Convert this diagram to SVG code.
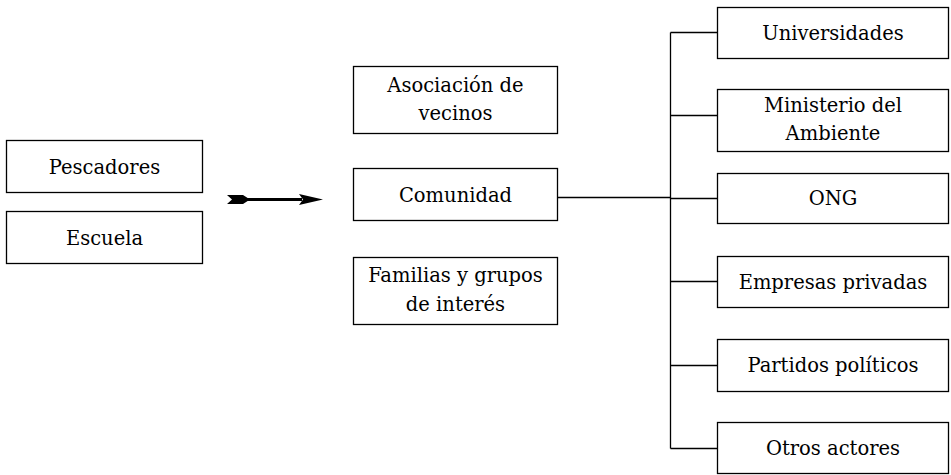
<svg xmlns="http://www.w3.org/2000/svg" width="951" height="475" viewBox="0 0 951 475">
<style>
.box{fill:#fff;stroke:#000;stroke-width:1.3}
.t{font-family:"DejaVu Serif","Liberation Serif",serif;font-size:19.5px;fill:#000;text-anchor:middle}
.c{fill:none;stroke:#000;stroke-width:1.3}
</style>
<rect width="951" height="475" fill="#fff"/>
<g id="pescadores"><rect class="box" x="6.5" y="140.5" width="196" height="52"/><text class="t" x="104.5" y="173.5">Pescadores</text></g>
<g id="escuela"><rect class="box" x="6.5" y="211.5" width="196" height="52"/><text class="t" x="104.5" y="244.5">Escuela</text></g>
<g id="asociacion"><rect class="box" x="353.5" y="66.5" width="204" height="67"/><text class="t" x="455.5" y="91.5">Asociación de</text><text class="t" x="455.5" y="120">vecinos</text></g>
<g id="comunidad"><rect class="box" x="353.5" y="168.5" width="204" height="52"/><text class="t" x="455.5" y="201.5">Comunidad</text></g>
<g id="familias"><rect class="box" x="353.5" y="257.5" width="204" height="67"/><text class="t" x="455.5" y="282">Familias y grupos</text><text class="t" x="455.5" y="310.5">de interés</text></g>
<g id="universidades"><rect class="box" x="717.5" y="7.5" width="231" height="51"/><text class="t" x="833" y="39.5">Universidades</text></g>
<g id="ministerio"><rect class="box" x="717.5" y="89.5" width="231" height="62"/><text class="t" x="833" y="112">Ministerio del</text><text class="t" x="833" y="140">Ambiente</text></g>
<g id="ong"><rect class="box" x="717.5" y="173.5" width="231" height="50"/><text class="t" x="833" y="205">ONG</text></g>
<g id="empresas"><rect class="box" x="717.5" y="256.5" width="231" height="51"/><text class="t" x="833" y="288.5">Empresas privadas</text></g>
<g id="partidos"><rect class="box" x="717.5" y="339.5" width="231" height="52"/><text class="t" x="833" y="372">Partidos políticos</text></g>
<g id="otros"><rect class="box" x="717.5" y="422.5" width="231" height="51"/><text class="t" x="833" y="455">Otros actores</text></g>
<g id="connectors">
<path class="c" d="M557.5 197.5H670.5"/>
<path class="c" d="M670.5 32.5V448.5"/>
<path class="c" d="M670.5 32.5H717.5M670.5 115.5H717.5M670.5 198.5H717.5M670.5 281.5H717.5M670.5 365.5H717.5M670.5 448.5H717.5"/>
<g id="arrow">
<path d="M245 199.5H302" stroke="#000" stroke-width="3"/>
<polygon points="227,195 243,195 250,199.5 243,204 227,204 232,199.5" fill="#000"/>
<polygon points="299,194 323,199.5 299,205 303,199.5" fill="#000"/>
</g>
</g>
</svg>
